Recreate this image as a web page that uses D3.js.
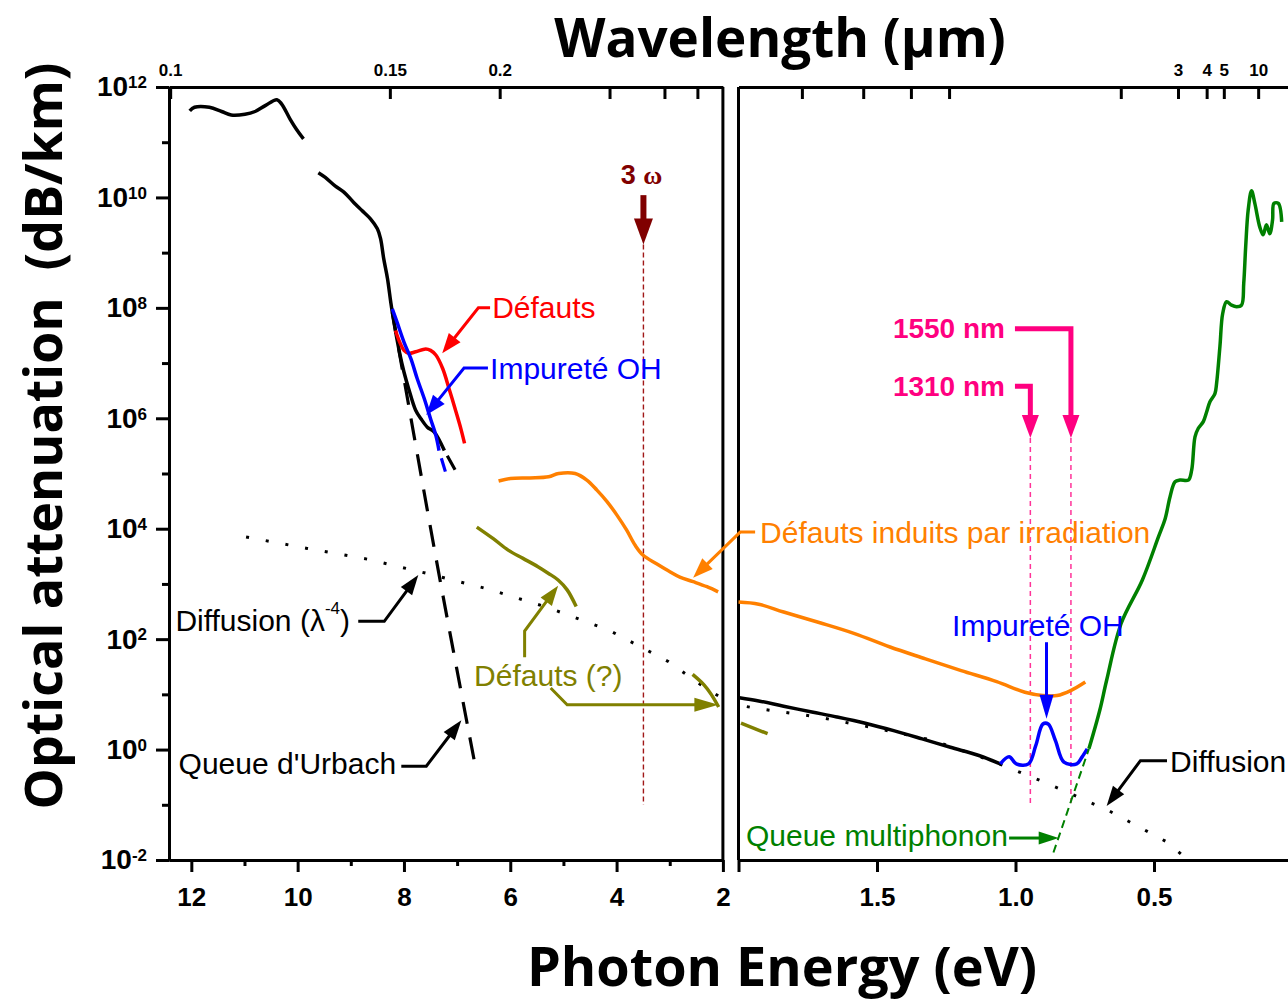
<!DOCTYPE html>
<html>
<head>
<meta charset="utf-8">
<script src="https://cdn.jsdelivr.net/npm/d3@7"></script>
<style>
  html, body { margin: 0; padding: 0; background: #fff; }
  svg { display: block; }
</style>
</head>
<body>
<svg id="chart" width="1288" height="1003"></svg>
<script>
// ---------------------------------------------------------------------------
// Attenuation of silica fibre vs photon energy: [energy (eV), attenuation (dB/km)]
// ---------------------------------------------------------------------------
const HC = 1.2398; // eV·µm, photon energy <-> wavelength

// Vacuum-UV absorption edge (black)
const vuvAbsorption = [
  [12.03, 3.7e11], [11.94, 4.3e11], [11.66, 4.3e11], [11.43, 3.6e11], [11.25, 3.1e11],
  [10.99, 3.2e11], [10.80, 3.6e11], [10.61, 4.6e11], [10.39, 5.9e11], [10.30, 4.9e11],
  [10.14, 2.6e11], [10.02, 1.7e11], [9.89, 1.15e11]
];
const uvEdge = [
  [9.61, 2.8e10], [9.48, 2.3e10], [9.29, 1.6e10], [9.13, 1.25e10], [8.95, 8.2e9],
  [8.79, 5.8e9], [8.63, 4.1e9], [8.50, 2.7e9], [8.44, 1.8e9], [8.38, 7.7e8],
  [8.31, 3.4e8], [8.25, 1.3e8], [8.22, 8.4e7], [8.08, 1.5e7], [8.00, 6.9e6],
  [7.91, 3.4e6], [7.78, 1.4e6], [7.68, 9.8e5], [7.56, 6.9e5], [7.43, 5.6e5], [7.24, 2.6e5]
];
const uvEdgeTail = [[7.24, 2.6e5], [7.0, 1.0e5]];

// Intrinsic defects (red) and OH impurity (blue) near the UV edge
const uvDefects = [
  [8.16, 3.9e7], [8.08, 2.4e7], [8.00, 1.7e7], [7.91, 1.5e7], [7.78, 1.6e7], [7.59, 1.8e7],
  [7.50, 1.7e7], [7.40, 1.4e7], [7.27, 7.9e6], [7.15, 3.4e6], [7.02, 1.3e6], [6.93, 6.5e5], [6.86, 3.5e5]
];
const uvOH = [
  [8.22, 9.6e7], [8.13, 5.5e7], [8.00, 2.4e7], [7.87, 1.2e7], [7.75, 5.2e6],
  [7.62, 2.3e6], [7.50, 9.8e5], [7.40, 4.9e5], [7.34, 2.6e5]
];
const uvOHTail = [[7.34, 2.6e5], [7.21, 1.0e5]];

// Urbach tail (dashed)
const urbachTail = [[8.22, 8.3e7], [7.39, 2.7e3], [6.68, 0.65]];

// Radiation-induced defects (orange)
const irradiationUV = [
  [6.22, 7.3e4], [6.00, 8.1e4], [5.63, 8.3e4], [5.28, 8.7e4], [5.09, 1.0e5], [4.78, 1.0e5],
  [4.56, 7.6e4], [4.37, 5.0e4], [4.18, 3.1e4], [4.00, 1.8e4], [3.81, 9.4e3], [3.65, 5.0e3],
  [3.50, 3.3e3], [3.24, 2.3e3], [2.99, 1.65e3], [2.81, 1.33e3], [2.56, 1.1e3], [2.30, 890], [2.09, 720]
];
const irradiationIR = [
  [2.00, 470], [1.927, 430], [1.837, 310], [1.709, 200], [1.581, 126], [1.453, 72],
  [1.325, 44], [1.196, 27], [1.068, 17], [0.966, 10.9], [0.901, 9.5], [0.850, 9.5],
  [0.799, 11.8], [0.748, 16.7]
];

// Unidentified defects (olive)
const defectsUV = [
  [6.63, 1.07e4], [6.32, 6.6e3], [6.04, 4.1e3], [5.76, 2.9e3], [5.48, 2.05e3],
  [5.28, 1.55e3], [5.10, 1.18e3], [4.93, 780], [4.76, 390]
];
const defectsVis = [[2.57, 23], [2.36, 15], [2.22, 10], [2.08, 5.9]];
const defectsIR = [[1.991, 3.0], [1.895, 1.94]];

// Rayleigh scattering (dotted)
const rayleighUV = [
  [10.97, 7.1e3], [9.82, 4.4e3], [8.68, 2.8e3], [7.57, 1.55e3], [6.42, 810],
  [5.28, 370], [4.13, 143], [3.02, 39], [2.33, 13], [2.0, 8.4]
];
const rayleighIR = [
  [1.97, 6.0], [1.927, 5.5], [1.715, 3.9], [1.497, 2.4], [1.299, 1.47], [1.087, 0.63],
  [0.882, 0.24], [0.663, 0.078], [0.452, 0.021], [0.387, 0.011]
];

// Near-IR measured loss (black) with OH overtone (blue)
const lossNIR = [
  [1.997, 8.7], [1.927, 7.6], [1.837, 6.1], [1.735, 4.8], [1.645, 3.9], [1.542, 3.0],
  [1.440, 2.2], [1.337, 1.56], [1.235, 1.10], [1.132, 0.78], [1.055, 0.55]
];
const ohNIR = [
  [1.055, 0.55], [1.023, 0.74], [0.997, 0.55], [0.953, 0.55], [0.927, 1.18], [0.901, 2.9],
  [0.882, 2.9], [0.856, 1.46], [0.825, 0.59], [0.779, 0.55], [0.760, 0.73], [0.741, 1.03]
];

// Multiphonon absorption (green)
const multiphononTail = [[0.863, 0.0137], [0.735, 1.03]];
const multiphonon = [
  [0.735, 1.03], [0.696, 5.1], [0.671, 18], [0.619, 190], [0.542, 1.18e3], [0.484, 7.1e3],
  [0.460, 1.5e4], [0.442, 3.8e4], [0.424, 7.1e4], [0.406, 7.6e4], [0.376, 7.6e4],
  [0.364, 1.15e5], [0.352, 4.6e5], [0.340, 6.6e5], [0.322, 8.7e5], [0.310, 1.3e6],
  [0.298, 2.0e6], [0.280, 2.8e6], [0.274, 4.3e6], [0.262, 2.0e7], [0.252, 7.9e7],
  [0.238, 1.29e8], [0.220, 1.12e8], [0.202, 1.05e8], [0.184, 1.12e8], [0.176, 2.8e8],
  [0.169, 1.28e9], [0.160, 5.9e9], [0.148, 1.32e10], [0.136, 7.8e9], [0.118, 2.9e9],
  [0.106, 2.1e9], [0.094, 3.2e9], [0.082, 2.2e9], [0.072, 3.9e9], [0.067, 7.8e9],
  [0.051, 7.8e9], [0.039, 3.6e9]
];

// Axis ticks
const decadesMajor = [1e-2, 1e0, 1e2, 1e4, 1e6, 1e8, 1e10, 1e12];
const decadesMinor = [1e-1, 1e1, 1e3, 1e5, 1e7, 1e9, 1e11];
const energyUVMajor = [12, 10, 8, 6, 4, 2];
const energyUVMinor = [11, 9, 7, 5, 3];
const energyIRMajor = [2, 1.5, 1.0, 0.5];
const energyIRLabels = ["", "1.5", "1.0", "0.5"];
const wavelengthUV = [0.1, 0.15, 0.2, 0.3, 0.4, 0.5];
const wavelengthUVLabeled = [0.1, 0.15, 0.2];
const wavelengthIR = [0.7, 0.8, 0.9, 1, 2, 3, 4, 5, 10];
const wavelengthIRLabeled = [3, 4, 5, 10];

// Laser lines
const thirdHarmonic = 3 * 1.165;          // eV, 3ω of a 1064 nm laser
const telecomWindows = [1310, 1550];      // nm

// ---------------------------------------------------------------------------
const SANS = "'Liberation Sans', Arial, sans-serif";
const TITLE = "'Open Sans', 'Liberation Sans', sans-serif";
const C = {
  black: "#000", red: "#ff0000", blue: "#0000ff", orange: "#ff8000",
  olive: "#808000", green: "#008000", pink: "#ff0080", maroon: "#800000"
};

const svg = d3.select("#chart");
const yTop = 87, yBot = 860;

const xL = d3.scaleLinear().domain([12.42, 2]).range([169, 722.9]);
const xR = d3.scaleLinear().domain([2, 0]).range([738.5, 1292.5]);
const y = d3.scaleLog().domain([1e-2, 1e12]).range([yBot, yTop]);
const X = { L: xL, R: xR };
const P = (side, E, A) => [X[side](E), y(A)];

// ---------------- axes ----------------
function styleAxis(g, fontSize) {
  g.selectAll("path.domain").attr("stroke", "#000").attr("stroke-width", 3);
  g.selectAll(".tick line").attr("stroke", "#000").attr("stroke-width", 3);
  g.selectAll(".tick text")
    .attr("fill", "#000")
    .style("font-family", SANS)
    .style("font-weight", "bold")
    .style("font-size", fontSize + "px");
}

const axes = svg.append("g");

// left attenuation axis
const yMajorG = axes.append("g").attr("transform", "translate(169,0)")
  .call(d3.axisLeft(y).tickValues(decadesMajor).tickSizeInner(13).tickSizeOuter(0).tickPadding(9));
styleAxis(yMajorG, 28);
yMajorG.selectAll(".tick text").each(function (d) {
  const t = d3.select(this);
  const e = Math.round(Math.log10(d));
  t.text(null);
  t.append("tspan").text("10");
  t.append("tspan").attr("dy", "-0.48em").style("font-size", "17px").text(String(e));
});
const yMinorG = axes.append("g").attr("transform", "translate(169,0)")
  .call(d3.axisLeft(y).tickValues(decadesMinor).tickSizeInner(7).tickSizeOuter(0).tickFormat(""));
styleAxis(yMinorG, 10);

// bottom energy axes
const bL = axes.append("g").attr("transform", `translate(0,${yBot})`)
  .call(d3.axisBottom(xL).tickValues(energyUVMajor).tickSizeInner(12).tickSizeOuter(0)
    .tickPadding(16).tickFormat(d3.format("d")));
styleAxis(bL, 26);
const bLm = axes.append("g").attr("transform", `translate(0,${yBot})`)
  .call(d3.axisBottom(xL).tickValues(energyUVMinor).tickSizeInner(6).tickSizeOuter(0).tickFormat(""));
styleAxis(bLm, 10);
const bR = axes.append("g").attr("transform", `translate(0,${yBot})`)
  .call(d3.axisBottom(xR).tickValues(energyIRMajor).tickSizeInner(12).tickSizeOuter(0)
    .tickPadding(16).tickFormat((d, i) => energyIRLabels[i]));
styleAxis(bR, 26);

// top wavelength axes
const tL = axes.append("g").attr("transform", `translate(0,${yTop})`)
  .call(d3.axisTop(xL).tickValues(wavelengthUV.map(l => HC / l)).tickSizeInner(-12).tickSizeOuter(0)
    .tickPadding(11).tickFormat((d, i) => wavelengthUVLabeled.includes(wavelengthUV[i]) ? String(wavelengthUV[i]) : ""));
styleAxis(tL, 17);
const tR = axes.append("g").attr("transform", `translate(0,${yTop})`)
  .call(d3.axisTop(xR).tickValues(wavelengthIR.map(l => HC / l)).tickSizeInner(-12).tickSizeOuter(0)
    .tickPadding(11).tickFormat((d, i) => wavelengthIRLabeled.includes(wavelengthIR[i]) ? String(wavelengthIR[i]) : ""));
styleAxis(tR, 17);

// panel borders on the axis break
axes.append("line").attr("x1", xL(2)).attr("x2", xL(2)).attr("y1", yTop).attr("y2", yBot)
  .attr("stroke", "#000").attr("stroke-width", 3);
axes.append("line").attr("x1", xR(2)).attr("x2", xR(2)).attr("y1", yTop).attr("y2", yBot)
  .attr("stroke", "#000").attr("stroke-width", 3);

// ---------------- titles ----------------
svg.append("text").attr("x", 780).attr("y", 57).attr("text-anchor", "middle")
  .style("font-family", TITLE).style("font-weight", "bold").style("font-size", "53px")
  .text("Wavelength (µm)");
svg.append("text").attr("x", 782).attr("y", 986).attr("text-anchor", "middle")
  .style("font-family", TITLE).style("font-weight", "bold").style("font-size", "54px")
  .text("Photon Energy (eV)");
svg.append("text").attr("transform", "translate(62,436) rotate(-90)").attr("text-anchor", "middle")
  .style("font-family", TITLE).style("font-weight", "bold").style("font-size", "52px")
  .style("white-space", "pre")
  .text("Optical attenuation  (dB/km)");

// ---------------- reference lines ----------------
const refs = svg.append("g");
refs.append("line")
  .attr("x1", xL(thirdHarmonic)).attr("x2", xL(thirdHarmonic))
  .attr("y1", y(1.4e9)).attr("y2", y(0.1))
  .attr("stroke", "#a01818").attr("stroke-width", 1.4).attr("stroke-dasharray", "5,3");
telecomWindows.forEach(nm => {
  const E = HC / (nm / 1000);
  refs.append("line")
    .attr("x1", xR(E)).attr("x2", xR(E)).attr("y1", y(4.4e5)).attr("y2", y(0.1))
    .attr("stroke", "#ff3399").attr("stroke-width", 1.5).attr("stroke-dasharray", "5,4");
});

// ---------------- curves ----------------
const curves = svg.append("g").attr("fill", "none").attr("stroke-linejoin", "round");
function curve(data, side, color, opts = {}) {
  const gen = d3.line().x(d => X[side](d[0])).y(d => y(d[1]))
    .curve(opts.linear ? d3.curveLinear : d3.curveCatmullRom.alpha(0.5));
  const p = curves.append("path").attr("d", gen(data))
    .attr("stroke", color).attr("stroke-width", opts.width || 3.5);
  if (opts.dash) p.attr("stroke-dasharray", opts.dash);
  return p;
}

curve(rayleighUV, "L", C.black, { linear: true, width: 3, dash: "3,17" });
curve(rayleighIR, "R", C.black, { linear: true, width: 3, dash: "3,17" });

curve(urbachTail, "L", C.black, { width: 3.2, dash: "22,14" });
curve(vuvAbsorption, "L", C.black);
curve(uvEdge, "L", C.black);
curve(uvEdgeTail, "L", C.black, { linear: true, width: 3.2, dash: "0,6,16,100" });
curve(uvDefects, "L", C.red);
curve(uvOH, "L", C.blue);
curve(uvOHTail, "L", C.blue, { linear: true, width: 3.2, dash: "0,8,14,100" });

curve(irradiationUV, "L", C.orange);
curve(irradiationIR, "R", C.orange);

curve(defectsUV, "L", C.olive);
curve(defectsVis, "L", C.olive);
curve(defectsIR, "R", C.olive);

curve(lossNIR, "R", C.black);
curve(ohNIR, "R", C.blue);

curve(multiphononTail, "R", C.green, { linear: true, width: 2, dash: "8,5" });
curve(multiphonon, "R", C.green);

// ---------------- annotations ----------------
const ann = svg.append("g");
function arrow(pts, color, w, headL, headW) {
  const n = pts.length;
  const [x1, y1] = pts[n - 2], [x2, y2] = pts[n - 1];
  const a = Math.atan2(y2 - y1, x2 - x1);
  const bx = x2 - headL * Math.cos(a), by = y2 - headL * Math.sin(a);
  const shaft = pts.slice(0, n - 1).concat([[bx + 2 * Math.cos(a), by + 2 * Math.sin(a)]]);
  ann.append("path").attr("d", d3.line()(shaft)).attr("fill", "none")
    .attr("stroke", color).attr("stroke-width", w).attr("stroke-linejoin", "miter");
  const px = -Math.sin(a) * headW / 2, py = Math.cos(a) * headW / 2;
  ann.append("path")
    .attr("d", `M${x2},${y2}L${bx + px},${by + py}L${bx - px},${by - py}Z`)
    .attr("fill", color);
}
function label(pt, txt, color, opts = {}) {
  const t = ann.append("text").attr("x", pt[0]).attr("y", pt[1])
    .attr("dominant-baseline", "central")
    .attr("text-anchor", opts.anchor || "start")
    .attr("fill", color)
    .style("font-family", SANS)
    .style("font-size", (opts.size || 30) + "px")
    .style("font-weight", opts.bold ? "bold" : "normal");
  if (txt) t.text(txt);
  return t;
}

// UV defects
label(P("L", 6.34, 1e8), "Défauts", C.red);
arrow([P("L", 6.38, 1e8), P("L", 6.60, 1e8), P("L", 7.28, 1.5e7)], C.red, 3, 20, 15);
// UV OH impurity
label(P("L", 6.38, 8.1e6), "Impureté OH", C.blue);
arrow([P("L", 6.42, 8.1e6), P("L", 6.87, 8.1e6), P("L", 7.58, 1.15e6)], C.blue, 3, 20, 15);

// radiation-induced defects
label(P("R", 1.922, 8.7e3), "Défauts induits par irradiation", C.orange);
arrow([P("R", 1.94, 8.7e3), P("R", 1.994, 8.7e3), P("L", 2.56, 1.3e3)], C.orange, 3, 20, 15);

// third harmonic
{
  const t = label([xL(thirdHarmonic) - 2, y(2.6e10)], null, C.maroon, { anchor: "middle", bold: true, size: 27 });
  t.append("tspan").text("3 ");
  t.append("tspan").style("font-family", "'Liberation Serif', serif").style("font-size", "26px").text("ω");
  arrow([P("L", thirdHarmonic, 1.1e10), P("L", thirdHarmonic, 1.4e9)], C.maroon, 6, 26, 19);
}

// Rayleigh scattering, UV side
{
  const t = label(P("L", 12.30, 220), null, C.black);
  t.append("tspan").text("Diffusion (λ");
  t.append("tspan").attr("dy", "-12").style("font-size", "17px").text("-4");
  t.append("tspan").attr("dy", "12").text(")");
  arrow([P("L", 8.86, 210), P("L", 8.37, 210), P("L", 7.73, 1.45e3)], C.black, 3, 20, 14);
}

// Urbach tail
label(P("L", 12.24, 0.56), "Queue d'Urbach", C.black);
arrow([P("L", 8.05, 0.5), P("L", 7.58, 0.5), P("L", 6.92, 3.4)], C.black, 3, 20, 14);

// unidentified defects
label(P("L", 6.68, 22), "Défauts (?)", C.olive);
arrow([P("L", 5.73, 47), P("L", 5.73, 140), P("L", 5.10, 930)], C.olive, 3, 20, 14);
arrow([P("L", 5.24, 13), P("L", 4.93, 6.5), P("L", 2.085, 6.5)], C.olive, 3, 24, 14);

// near-IR OH
label(P("R", 1.229, 178), "Impureté OH", C.blue);
arrow([P("R", 0.888, 88), P("R", 0.888, 3.6)], C.blue, 3, 24, 14);

// Rayleigh scattering, IR side
label(P("R", 0.442, 0.62), "Diffusion", C.black);
arrow([P("R", 0.453, 0.63), P("R", 0.549, 0.63), P("R", 0.671, 0.095)], C.black, 3, 20, 14);

// multiphonon tail
label(P("R", 1.973, 0.028), "Queue multiphonon", C.green);
arrow([P("R", 1.023, 0.025), P("R", 0.844, 0.025)], C.green, 3, 20, 13);

// telecom windows
{
  const rows = [[1550, 4.2e7], [1310, 3.8e6]];
  rows.forEach(([nm, A]) => {
    const E = HC / (nm / 1000);
    label(P("R", 1.038, A), nm + " nm", C.pink, { anchor: "end", bold: true, size: 28 });
    arrow([P("R", 1.002, A), P("R", E, A), P("R", E, 4.4e5)], C.pink, 5, 23, 17);
  });
}
</script>
</body>
</html>
